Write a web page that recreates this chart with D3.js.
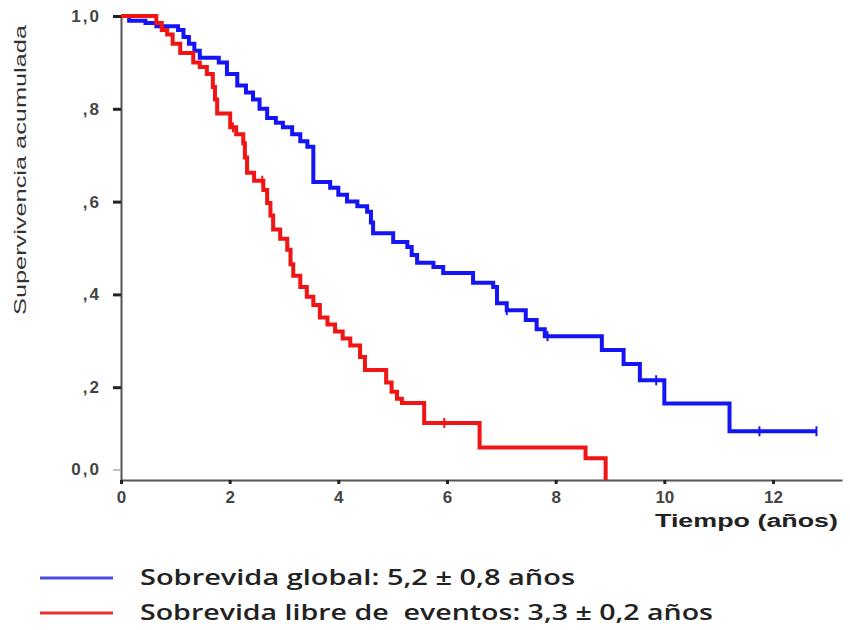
<!DOCTYPE html>
<html>
<head>
<meta charset="utf-8">
<script src="https://cdn.jsdelivr.net/npm/d3@7"></script>
<style>
  html, body { margin: 0; padding: 0; background: #fff; }
  svg { display: block; }
</style>
</head>
<body>
<svg id="chart" width="850" height="630"></svg>
<script>
// ---------- data ----------
const globalTimes = [0, 0.15, 0.45, 0.65, 1.05, 1.15, 1.25, 1.35, 1.45, 1.8, 1.95, 2.14, 2.3, 2.43, 2.55, 2.69, 2.85, 2.98, 3.15, 3.3, 3.43, 3.54, 3.85, 4.0, 4.16, 4.35, 4.53, 4.6, 4.64, 5.01, 5.27, 5.35, 5.45, 5.75, 5.93, 6.48, 6.85, 6.92, 7.1, 7.45, 7.65, 7.8, 8.85, 9.25, 9.55, 10.0, 11.2, 12.8];
const globalSurv  = [1.0, 0.99, 0.985, 0.978, 0.97, 0.955, 0.94, 0.925, 0.91, 0.9, 0.875, 0.85, 0.835, 0.82, 0.8, 0.78, 0.77, 0.76, 0.745, 0.73, 0.718, 0.642, 0.63, 0.615, 0.6, 0.59, 0.578, 0.555, 0.532, 0.513, 0.502, 0.485, 0.468, 0.459, 0.446, 0.425, 0.416, 0.381, 0.366, 0.345, 0.325, 0.31, 0.28, 0.25, 0.215, 0.165, 0.105, 0.105];
const globalCensored = [7.1, 7.85, 9.85, 11.75, 12.8];

const eventTimes = [0, 0.65, 0.75, 0.85, 0.95, 1.09, 1.33, 1.45, 1.58, 1.69, 1.73, 1.77, 2.01, 2.12, 2.25, 2.28, 2.32, 2.45, 2.62, 2.69, 2.75, 2.8, 2.93, 3.06, 3.12, 3.17, 3.3, 3.42, 3.54, 3.66, 3.8, 3.94, 4.08, 4.22, 4.4, 4.49, 4.88, 4.98, 5.08, 5.17, 5.58, 6.6, 8.55, 8.92];
const eventSurv  = [1.0, 0.985, 0.97, 0.96, 0.94, 0.92, 0.9, 0.89, 0.875, 0.847, 0.82, 0.79, 0.76, 0.745, 0.726, 0.695, 0.662, 0.645, 0.625, 0.597, 0.57, 0.54, 0.52, 0.496, 0.465, 0.44, 0.416, 0.395, 0.377, 0.35, 0.335, 0.32, 0.305, 0.29, 0.265, 0.237, 0.21, 0.19, 0.175, 0.166, 0.123, 0.07, 0.047, 0.0];
const eventCensored = [2.06, 2.6, 5.95];

const yTicks = [0, 0.2, 0.4, 0.6, 0.8, 1.0];
const yTickLabels = ["0,0", ",2", ",4", ",6", ",8", "1,0"];
const xTicks = [0, 2, 4, 6, 8, 10, 12];

const legendLabels = ["Sobrevida global: 5,2 \u00b1 0,8 a\u00f1os", "Sobrevida libre de  eventos: 3,3 \u00b1 0,2 a\u00f1os"];
const seriesColors = ["#1414f5", "#f01414"];
const legendColors = ["#4a4ae0", "#e83030"];

// ---------- layout ----------
const svg = d3.select("#chart");
const x = d3.scaleLinear().domain([0, 13.27]).range([121, 842]);
const y = d3.scaleLinear().domain([0, 1]).range([480, 16]);

// y axis
const yAxis = d3.axisLeft(y).tickValues(yTicks).tickSize(8).tickSizeOuter(0).tickPadding(12)
  .tickFormat((d, i) => yTickLabels[yTicks.indexOf(d)]);
const gy = svg.append("g").attr("transform", "translate(121,0)").call(yAxis);
gy.select(".domain").attr("stroke", "#555").attr("stroke-width", 2);
gy.selectAll(".tick line").attr("stroke", "#222").attr("stroke-width", 3);
gy.selectAll(".tick text").attr("fill", "#444").style("font-family", "Arial, 'Liberation Sans', sans-serif")
  .style("font-size", "17px").style("font-weight", "bold").style("letter-spacing", "2px");
gy.selectAll(".tick").filter(d => d === 0)
  .attr("transform", `translate(0,${y(0) - 10})`)
  .select("line").attr("stroke", "#aaa").attr("stroke-width", 1.5);

// x axis
const xAxis = d3.axisBottom(x).tickValues(xTicks).tickSize(4).tickSizeOuter(0).tickPadding(7);
const gx = svg.append("g").attr("transform", "translate(0,480)").call(xAxis);
gx.select(".domain").attr("stroke", "#555").attr("stroke-width", 2);
gx.selectAll(".tick line").attr("stroke", "#222").attr("stroke-width", 3);
gx.selectAll(".tick text").attr("fill", "#444").style("font-family", "Arial, 'Liberation Sans', sans-serif")
  .style("font-size", "17px").style("font-weight", "bold");

// axis titles
svg.append("text")
  .attr("x", 838).attr("y", 527).attr("text-anchor", "end")
  .attr("textLength", 183).attr("lengthAdjust", "spacingAndGlyphs")
  .style("font-family", "Arial, 'Liberation Sans', sans-serif").style("font-size", "18px").style("font-weight", "bold")
  .attr("fill", "#222").text("Tiempo (a\u00f1os)");

svg.append("text")
  .attr("transform", "translate(26,170) rotate(-90)")
  .attr("text-anchor", "middle")
  .attr("textLength", 290).attr("lengthAdjust", "spacingAndGlyphs")
  .style("font-family", "Arial, 'Liberation Sans', sans-serif").style("font-size", "17px")
  .attr("fill", "#333").text("Supervivencia acumulada");

// curves
const line = d3.line().x(d => x(d[0])).y(d => y(d[1])).curve(d3.curveStepAfter);
const series = [
  { times: globalTimes, surv: globalSurv, cens: globalCensored, color: seriesColors[0] },
  { times: eventTimes, surv: eventSurv, cens: eventCensored, color: seriesColors[1] }
];
function survAt(s, t) {
  let v = s.surv[0];
  for (let i = 0; i < s.times.length; i++) if (s.times[i] <= t) v = s.surv[i];
  return v;
}
series.forEach(s => {
  const pts = s.times.map((t, i) => [t, s.surv[i]]);
  svg.append("path").datum(pts).attr("d", line)
    .attr("fill", "none").attr("stroke", s.color).attr("stroke-width", 4)
    .attr("stroke-linejoin", "miter");
  svg.selectAll(null).data(s.cens).enter().append("line")
    .attr("x1", d => x(d)).attr("x2", d => x(d))
    .attr("y1", d => y(survAt(s, d)) - 5).attr("y2", d => y(survAt(s, d)) + 5)
    .attr("stroke", s.color).attr("stroke-width", 2);
});

// legend
const legend = svg.append("g");
const legendY = [578, 613];
const legendWidths = [435, 573];
legendLabels.forEach((lab, i) => {
  legend.append("line").attr("x1", 40).attr("x2", 113).attr("y1", legendY[i]).attr("y2", legendY[i])
    .attr("stroke", legendColors[i]).attr("stroke-width", 3);
  legend.append("text").attr("x", 140).attr("y", legendY[i] + 7)
    .attr("xml:space", "preserve").style("white-space", "pre")
    .attr("textLength", legendWidths[i]).attr("lengthAdjust", "spacingAndGlyphs")
    .style("font-family", "'Open Sans', 'Noto Sans', sans-serif").style("font-size", "21px").style("font-weight", "600")
    .attr("fill", "#222").text(lab);
});
</script>
</body>
</html>
